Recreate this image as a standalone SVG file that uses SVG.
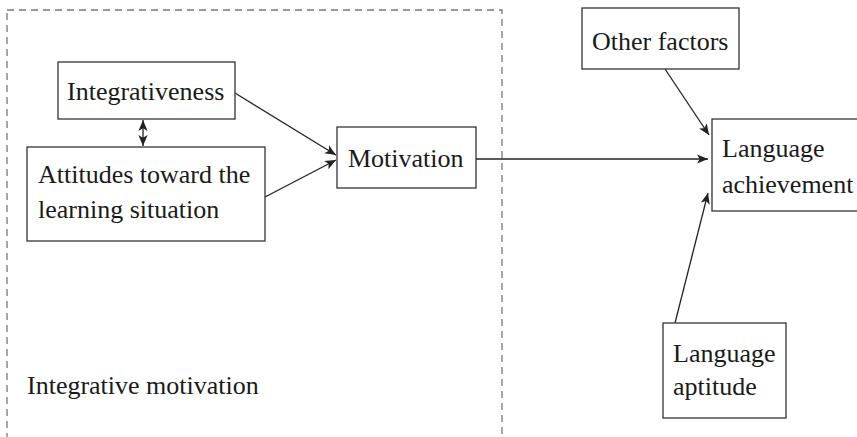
<svg xmlns="http://www.w3.org/2000/svg" width="857" height="437" viewBox="0 0 857 437">
<style>
.box{fill:#fff;stroke:#333;stroke-width:1.3}
.t{font-family:"Liberation Serif","Times New Roman",serif;font-size:26px;fill:#1a1a1a}
.c{stroke:#222;stroke-width:1.3;fill:none}
.dash{fill:none;stroke:#777;stroke-width:1.3;stroke-dasharray:7 5}
</style>
<defs>
<marker id="ah" viewBox="0 0 10 10" refX="10" refY="5" markerWidth="11" markerHeight="11" markerUnits="userSpaceOnUse" orient="auto-start-reverse">
<path d="M0,0.8 L10,5 L0,9.2 L2.5,5 Z" fill="#222"/>
</marker>
</defs>
<rect width="857" height="437" fill="#fff"/>
<g id="group-integrative">
<rect class="dash" x="7" y="10" width="495" height="440"/>
<text class="t" x="27" y="394">Integrative motivation</text>
</g>
<g id="connectors">
<line class="c" x1="143" y1="120" x2="143" y2="146" marker-start="url(#ah)" marker-end="url(#ah)"/>
<line class="c" x1="235" y1="93" x2="336" y2="155" marker-end="url(#ah)"/>
<line class="c" x1="265" y1="197" x2="336" y2="160" marker-end="url(#ah)"/>
<line class="c" x1="476" y1="159" x2="708" y2="159" marker-end="url(#ah)"/>
<line class="c" x1="665" y1="69" x2="709" y2="135" marker-end="url(#ah)"/>
<line class="c" x1="675" y1="323" x2="708" y2="193" marker-end="url(#ah)"/>
</g>
<g id="integrativeness">
<rect class="box" x="58" y="62" width="177" height="57"/>
<text class="t" x="67" y="100">Integrativeness</text>
</g>
<g id="attitudes">
<rect class="box" x="27" y="147" width="238" height="94"/>
<text class="t" x="38" y="183">Attitudes toward the</text>
<text class="t" x="38" y="218">learning situation</text>
</g>
<g id="motivation">
<rect class="box" x="337" y="127" width="139" height="61"/>
<text class="t" x="348" y="167">Motivation</text>
</g>
<g id="other-factors">
<rect class="box" x="582" y="8" width="157" height="61"/>
<text class="t" x="592" y="50">Other factors</text>
</g>
<g id="language-achievement">
<rect class="box" x="712" y="119" width="160" height="92"/>
<text class="t" x="722" y="157">Language</text>
<text class="t" x="722" y="193">achievement</text>
</g>
<g id="language-aptitude">
<rect class="box" x="663" y="323" width="123" height="95"/>
<text class="t" x="673" y="362">Language</text>
<text class="t" x="673" y="395">aptitude</text>
</g>
</svg>
